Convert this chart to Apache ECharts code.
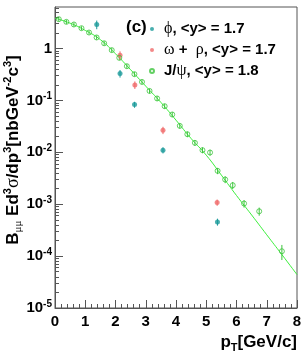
<!DOCTYPE html>
<html>
<head>
<meta charset="utf-8">
<script src="https://cdn.jsdelivr.net/npm/echarts@6/dist/echarts.min.js"></script>
<style>html,body{margin:0;padding:0;background:#fff}#c{width:307px;height:359px}</style>
</head>
<body>
<div id="c"></div>
<script>
// ---- data ----
var jpsiPt  = [0.125,0.375,0.625,0.875,1.125,1.375,1.625,1.875,2.125,2.375,2.625,2.875,3.125,3.375,3.625,3.875,4.125,4.375,4.625,4.875,5.125,5.375,5.625,5.875,6.25,6.75,7.5];
var jpsiVal = [3.67,3.26,2.90,2.46,2.03,1.63,1.26,0.93,0.66,0.456,0.32,0.227,0.152,0.109,0.0773,0.0535,0.0323,0.0223,0.0152,0.011,0.0099,0.00439,0.00299,0.00232,0.00103,0.00073,0.000124];
var jpsiErr = [0.35,0.30,0.27,0.22,0.18,0.15,0.12,0.09,0.065,0.045,0.032,0.023,0.016,0.012,0.0085,0.006,0.0037,0.0027,0.0019,0.0014,0.0013,0.0006,0.00045,0.00036,0.00017,0.00013,0.00004];

var phiPt  = [1.38,2.15,2.63,3.57,5.37];
var phiVal = [2.9,0.33,0.083,0.011,0.000456];
var phiErr = [0.55,0.055,0.011,0.0015,0.00007];

var omPt  = [2.15,2.64,3.57,5.36];
var omVal = [0.74,0.199,0.0267,0.00108];
var omErr = [0.14,0.033,0.0043,0.00015];

var fitPt  = [0,0.5,1,1.5,2,2.5,3,3.5,4,4.5,5,5.5,6,6.5,7,7.5,8];
var fitVal = [3.84,3.07,2.23,1.48,0.79,0.39,0.188,0.0916,0.0416,0.0184,0.0088,0.00363,0.00147,0.00062,0.000257,0.000107,0.000044];

var xTicks = [0,1,2,3,4,5,6,7,8];
var yMajor = [1e-5,1e-4,1e-3,1e-2,1e-1,1];
var yMinorMult = [2,3,4,5,6,7,8,9];

var teal = '#1a9a9a', red = '#f06a6a', green = '#3cc43c', lineGreen = '#3cf03c';
var font = 'Liberation Sans';

function zip(xs, ys){ return xs.map(function(x,i){ return [x, ys[i]]; }); }
function errData(xs, ys, es){ return xs.map(function(x,i){ return [x, ys[i]-es[i], ys[i]+es[i]]; }); }

var yMinor = [];
yMajor.forEach(function(d){ yMinorMult.forEach(function(m){ if (d*m < 6.3) yMinor.push(d*m); }); });

function errSeries(data, color){
  return {
    type: 'custom', data: data, z: 3, silent: true,
    renderItem: function(params, api){
      var lo = api.coord([api.value(0), api.value(1)]);
      var hi = api.coord([api.value(0), api.value(2)]);
      return {type:'line', shape:{x1:lo[0], y1:lo[1], x2:hi[0], y2:hi[1]}, style:{stroke:color, lineWidth:1}};
    },
    encode: {x:0, y:[1,2]}
  };
}

var supRich = {
  b: {fontFamily: font, fontWeight: 'bold', fontSize: 15, lineHeight: 18, color: '#000'},
  s: {fontFamily: font, fontWeight: 'bold', fontSize: 10, lineHeight: 10, verticalAlign: 'top', color: '#000'}
};

var chart = echarts.init(document.getElementById('c'), null, {renderer: 'canvas'});
var legendRich = {
  g: {fontFamily: 'Liberation Serif', fontSize: 16, color: '#000'},
  t: {fontFamily: font, fontWeight: 'bold', fontSize: 15, color: '#000'}
};
var legendText = {
  phi: '{g|\u03d5}{t|, <y> = 1.7}',
  omega: '{g|\u03c9}{t| +  }{g|\u03c1}{t|, <y> = 1.7}',
  jpsi: '{t|J/}{g|\u03c8}{t|, <y> = 1.8}'
};

var option = {
  animation: false,
  backgroundColor: '#fff',
  grid: {left: 55, right: 10, top: 7, bottom: 51, show: true, borderColor: '#555', borderWidth: 1},
  title: {text: '(c)', left: 121, top: 14, textStyle: {fontFamily: font, fontWeight: 'bold', fontSize: 17, color: '#000'}},
  legend: {
    orient: 'vertical', left: 144, top: 15, itemWidth: 14, itemHeight: 4, itemGap: 3,
    data: [
      {name: 'phi', icon: 'circle'},
      {name: 'omega', icon: 'circle'},
      {name: 'jpsi', icon: 'circle'}
    ],
    formatter: function(n){ return legendText[n]; },
    textStyle: {lineHeight: 18, rich: legendRich},
    selectedMode: false
  },
  xAxis: {
    type: 'value', min: 0, max: 8, interval: 1,
    axisLine: {show: true, lineStyle: {color: '#555'}},
    axisTick: {show: true, inside: true, length: 8, lineStyle: {color: '#555'}},
    minorTick: {show: true, splitNumber: 5, length: 4, lineStyle: {color: '#555'}},
    splitLine: {show: false},
    axisLabel: {margin: 6, fontFamily: font, fontWeight: 'bold', fontSize: 15, color: '#000',
      customValues: xTicks}
  },
  yAxis: [{
    type: 'log', min: 1e-5, max: 6.3, logBase: 10,
    axisLine: {show: true, lineStyle: {color: '#555'}},
    axisTick: {show: true, inside: true, length: 8, lineStyle: {color: '#555'}, customValues: yMajor},
    splitLine: {show: false},
    minorTick: {show: false},
    axisLabel: {
      margin: 3, customValues: yMajor, rich: supRich,
      formatter: function(v){
        var e = Math.round(Math.log10(v));
        if (e === 0) return '{b|1}';
        return '{b|10}{s|' + e + '}';
      }
    }
  }, {
    type: 'log', min: 1e-5, max: 6.3, logBase: 10, position: 'left',
    axisLine: {show: false},
    axisTick: {show: true, inside: true, length: 4, lineStyle: {color: '#555'}, customValues: yMinor},
    axisLabel: {show: false},
    splitLine: {show: false}
  }],
  graphic: [
    {
      type: 'text', x: 13, y: 150, rotation: Math.PI/2,
      style: {
        text: '{B|B}{sub|\u03bc\u03bc}{B| Ed}{sup|3}{G|\u03c3}{B|/dp}{sup|3}{B|[nbGeV}{sup|-2}{B|c}{sup|3}{B|]}',
        align: 'center', verticalAlign: 'middle',
        rich: {
          B: {fontFamily: font, fontWeight: 'bold', fontSize: 17, lineHeight: 22, fill: '#000'},
          G: {fontFamily: 'Liberation Serif', fontSize: 18, lineHeight: 22, fill: '#000'},
          sup: {fontFamily: font, fontWeight: 'bold', fontSize: 11, lineHeight: 11, verticalAlign: 'top', fill: '#000'},
          sub: {fontFamily: 'Liberation Serif', fontSize: 11, lineHeight: 11, verticalAlign: 'bottom', fill: '#000'}
        }
      }
    },
    {
      type: 'text', x: 297, y: 342,
      style: {
        text: '{B|p}{sub|T}{B|[GeV/c]}',
        align: 'right', verticalAlign: 'middle',
        rich: {
          B: {fontFamily: font, fontWeight: 'bold', fontSize: 17, lineHeight: 22, fill: '#000'},
          sub: {fontFamily: font, fontWeight: 'bold', fontSize: 11, lineHeight: 11, verticalAlign: 'bottom', fill: '#000'}
        }
      }
    }
  ],
  series: [
    {
      name: 'fit', type: 'line', data: zip(fitPt, fitVal), smooth: true, showSymbol: false,
      lineStyle: {color: lineGreen, width: 1}, z: 2, silent: true
    },
    errSeries(errData(jpsiPt, jpsiVal, jpsiErr), green),
    errSeries(errData(phiPt, phiVal, phiErr), teal),
    errSeries(errData(omPt, omVal, omErr), red),
    {
      name: 'phi', type: 'scatter', data: zip(phiPt, phiVal), symbol: 'circle', symbolSize: 5,
      itemStyle: {color: teal}, z: 5
    },
    {
      name: 'omega', type: 'scatter', data: zip(omPt, omVal), symbol: 'circle', symbolSize: 5,
      itemStyle: {color: red}, z: 5
    },
    {
      name: 'jpsi', type: 'scatter', data: zip(jpsiPt, jpsiVal), symbol: 'circle', symbolSize: 5,
      itemStyle: {color: 'rgba(255,255,255,0)', borderColor: green, borderWidth: 1}, z: 5
    }
  ]
};
chart.setOption(option);
</script>
</body>
</html>
